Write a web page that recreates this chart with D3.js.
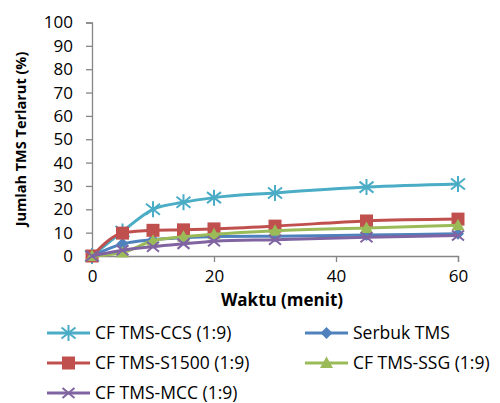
<!DOCTYPE html>
<html><head><meta charset="utf-8">
<script src="https://cdn.jsdelivr.net/npm/d3@7"></script>
<style>body{margin:0;background:#fff}svg{display:block}text{font-family:"Open Sans",sans-serif;fill:#000}</style>
</head><body><svg id="c" width="500" height="403"></svg>
<script>
const times = [0, 5, 10, 15, 20, 30, 45, 60];
const seriesNames = ["CF TMS-CCS (1:9)", "Serbuk TMS", "CF TMS-S1500 (1:9)", "CF TMS-SSG (1:9)", "CF TMS-MCC (1:9)"];
const ccs   = [0, 10.5, 20, 23, 25, 27, 29.5, 30.8];
const serbuk = [0, 5.2, 7, 7.8, 8.3, 8.5, 9, 9.5];
const s1500 = [0, 9.8, 11, 11.2, 11.6, 12.8, 15, 15.8];
const ssg   = [0, 1.5, 6.5, 8.2, 9.3, 10.8, 12, 13.2];
const mcc   = [0, 2.5, 4, 5.2, 6.3, 7, 8, 8.8];
const yTicks = [0,10,20,30,40,50,60,70,80,90,100];
const xTicks = [0,20,40,60];
const colors = ["#4bacc6", "#4f81bd", "#c0504d", "#9bbb59", "#8064a2"];
const markers = ["asterisk", "diamond", "square", "triangle", "x"];
const values = [ccs, serbuk, s1500, ssg, mcc];

const svg = d3.select("#c");
const x = d3.scaleLinear().domain([0,60]).range([92,458]);
const y = d3.scaleLinear().domain([0,100]).range([256,22.5]);

const yAxis = svg.append("g").attr("transform","translate(92,0)")
  .call(d3.axisLeft(y).tickValues(yTicks).tickSize(6).tickPadding(13));
const xAxis = svg.append("g").attr("transform","translate(0,256)")
  .call(d3.axisBottom(x).tickValues(xTicks).tickSize(6).tickPadding(8));
[yAxis,xAxis].forEach(a=>{
  a.selectAll("path,line").attr("stroke","#868686").attr("stroke-width",1.3);
  a.selectAll("text").style("font-size","17px").attr("fill","#222");
});

svg.append("text").attr("transform","translate(26,139) rotate(-90)").attr("text-anchor","middle")
  .style("font-size","14.5px").style("font-weight","bold").text("Jumlah TMS Terlarut (%)");
svg.append("text").attr("x",282).attr("y",306).attr("text-anchor","middle")
  .style("font-size","17px").style("font-weight","bold").text("Waktu (menit)");

function drawMarker(g, type, cx, cy, color){
  if(type==="square"){
    g.append("rect").attr("x",cx-6.5).attr("y",cy-6.5).attr("width",13).attr("height",13).attr("fill",color);
  } else if(type==="diamond"){
    g.append("path").attr("d",`M${cx},${cy-6}L${cx+6},${cy}L${cx},${cy+6}L${cx-6},${cy}Z`).attr("fill",color);
  } else if(type==="triangle"){
    g.append("path").attr("d",`M${cx},${cy-6.5}L${cx+6.5},${cy+5}L${cx-6.5},${cy+5}Z`).attr("fill",color);
  } else if(type==="x"){
    g.append("path").attr("d",`M${cx-6},${cy-5}L${cx+6},${cy+5}M${cx-6},${cy+5}L${cx+6},${cy-5}`).attr("stroke",color).attr("stroke-width",2).attr("fill","none");
  } else if(type==="asterisk"){
    g.append("path").attr("d",`M${cx-7},${cy-5.5}L${cx+7},${cy+5.5}M${cx-7},${cy+5.5}L${cx+7},${cy-5.5}M${cx},${cy-8}L${cx},${cy+8}`).attr("stroke",color).attr("stroke-width",2).attr("fill","none");
  }
}

const line = d3.line().x(d=>x(d[0])).y(d=>y(d[1])).curve(d3.curveMonotoneX);
values.forEach((vals,i)=>{
  const g = svg.append("g");
  const pts = times.map((t,j)=>[t,vals[j]]);
  g.append("path").datum(pts).attr("d",line).attr("fill","none").attr("stroke",colors[i]).attr("stroke-width",3);
  pts.forEach(p=>drawMarker(g, markers[i], x(p[0]), y(p[1]), colors[i]));
});

// legend
const legPos = [[47,333],[305,333],[47,363],[305,363],[47,393]];
seriesNames.forEach((name,i)=>{
  const [lx,ly] = legPos[i];
  const g = svg.append("g");
  g.append("line").attr("x1",lx).attr("x2",lx+43).attr("y1",ly).attr("y2",ly).attr("stroke",colors[i]).attr("stroke-width",3);
  drawMarker(g, markers[i], lx+21.5, ly, colors[i]);
  g.append("text").attr("x",lx+48).attr("y",ly).attr("dy","0.35em").style("font-size","17.5px").attr("fill","#111").text(name);
});
</script></body></html>
